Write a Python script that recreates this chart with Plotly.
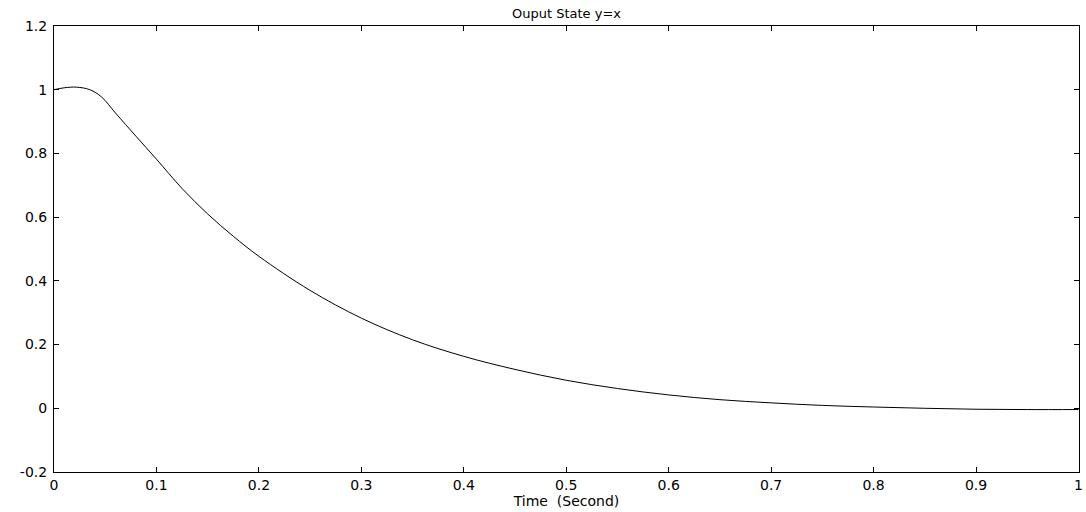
import plotly.graph_objects as go

# Output state samples
time_s = [0, 0.01, 0.022, 0.035, 0.0465, 0.06, 0.08, 0.1, 0.125, 0.15, 0.175, 0.2,
          0.25, 0.3, 0.35, 0.4, 0.45, 0.5, 0.55, 0.6, 0.65, 0.7, 0.75, 0.8,
          0.85, 0.9, 0.95, 1.0]
state_y = [1.0, 1.006, 1.008, 1.0, 0.977, 0.927, 0.854, 0.782, 0.69, 0.61, 0.54, 0.477,
           0.37, 0.283, 0.215, 0.163, 0.122, 0.088, 0.062, 0.042, 0.027, 0.017, 0.009, 0.004,
           0.0, -0.003, -0.004, -0.004]

x_ticks = [0, 0.1, 0.2, 0.3, 0.4, 0.5, 0.6, 0.7, 0.8, 0.9, 1]
x_labels = ['0', '0.1', '0.2', '0.3', '0.4', '0.5', '0.6', '0.7', '0.8', '0.9', '1']
y_ticks = [-0.2, 0, 0.2, 0.4, 0.6, 0.8, 1, 1.2]
y_labels = ['-0.2', '0', '0.2', '0.4', '0.6', '0.8', '1', '1.2']

fig = go.Figure()
fig.add_trace(go.Scatter(x=time_s, y=state_y, mode='lines',
                         line=dict(color='black', width=1), line_shape='spline',
                         showlegend=False, cliponaxis=False))

axis_style = dict(showline=True, linecolor='black', linewidth=1, mirror='ticks',
                  ticks='inside', ticklen=5, tickcolor='black', showgrid=False,
                  zeroline=False, automargin=False,
                  tickfont=dict(size=14, color='black'))

fig.update_xaxes(range=[0, 1.0005], tickvals=x_ticks, ticktext=x_labels, **axis_style,
                 title=dict(text='Time \u00a0(Second)', font=dict(size=14, color='black'),
                            standoff=0))
fig.update_yaxes(range=[-0.2, 1.2], tickvals=y_ticks, ticktext=y_labels,
                 ticklabelstandoff=3, **axis_style)

fig.update_layout(
    width=1086, height=512,
    margin=dict(l=54, r=7, t=26, b=40),
    paper_bgcolor='white', plot_bgcolor='white',
    font=dict(family='DejaVu Sans, Arial, sans-serif', size=14, color='black'),
    title=dict(text='Ouput State y=x', x=0.5, xref='paper', y=1 - 13 / 512,
               yanchor='middle', font=dict(size=13, color='black')),
)

# drop the page's default body margin so the figure sits at the window corner
fig.write_html("out.html",
               config={'displayModeBar': False},
               post_script="document.body.style.margin='0';"
                           "document.body.style.overflow='hidden';")
